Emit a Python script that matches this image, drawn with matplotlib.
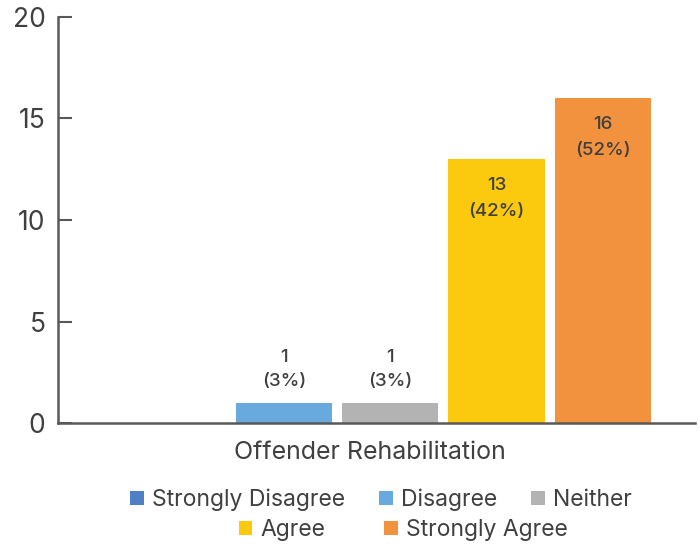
import matplotlib
matplotlib.use("Agg")
import matplotlib.pyplot as plt
from matplotlib.patches import Patch

# data
CATEGORY = "Offender Rehabilitation"
RESPONSES = ["Strongly Disagree", "Disagree", "Neither", "Agree", "Strongly Agree"]
COUNTS = [0, 1, 1, 13, 16]
COLORS = ["#4f80c5", "#69aade", "#b3b3b3", "#fbc90d", "#f2923f"]
Y_TICKS = [0, 5, 10, 15, 20]

TEXT = "#404040"
AXIS = "#595959"
plt.rcParams["font.family"] = ["Inter", "DejaVu Sans"]

fig = plt.figure(figsize=(6.99, 5.5), dpi=100)
ax = fig.add_axes([0.083, 0.2309, 0.911, 0.7382])

total = sum(COUNTS)
width = 0.151
step = 1 / 6
for i, (resp, n, col) in enumerate(zip(RESPONSES, COUNTS, COLORS)):
    x = (i - 2) * step + 0.022
    ax.bar(x, n, width=width, color=col, label=resp)
    if n == 0:
        continue
    lab = f"{n}\n({round(100 * n / total)}%)"
    if n > 3:  # inside, near the top
        ax.annotate(lab, (x, n), xytext=(0, -13), textcoords="offset points",
                    ha="center", va="top", fontsize=13.5, color=TEXT,
                    fontweight="medium", linespacing=1.65)
    else:
        ax.annotate(lab, (x, n), xytext=(0, 9), textcoords="offset points",
                    ha="center", va="bottom", fontsize=13.5, color=TEXT,
                    fontweight="medium", linespacing=1.55)

ax.set_xlim(-0.5, 0.5)
ax.set_ylim(0, 20)
ax.set_yticks(Y_TICKS)
ax.set_xticks([-0.01])
ax.set_xticklabels([CATEGORY])
ax.tick_params(axis="y", direction="in", length=10, width=1.5, color=AXIS,
               labelsize=19, labelcolor=TEXT, pad=9)
ax.tick_params(axis="x", length=0, labelsize=18, labelcolor=TEXT, pad=13)
for s in ("top", "right"):
    ax.spines[s].set_visible(False)
for s in ("left", "bottom"):
    ax.spines[s].set_color(AXIS)
    ax.spines[s].set_linewidth(1.8)

handles = [Patch(facecolor=c, label=r) for r, c in zip(RESPONSES, COLORS)]
kw = dict(frameon=False, fontsize=16.5, labelcolor=TEXT, handlelength=0.6,
          handleheight=0.6, handletextpad=0.35,
          borderpad=0, borderaxespad=0)
fig.legend(handles=handles[:3], loc="center", ncol=3, columnspacing=1.5,
           bbox_to_anchor=(0.545, 1 - 500 / 550), **kw)
fig.legend(handles=handles[3:], loc="center", ncol=2, columnspacing=2.55,
           bbox_to_anchor=(0.5765, 1 - 530 / 550), **kw)

fig.savefig("out.png", dpi=100)
